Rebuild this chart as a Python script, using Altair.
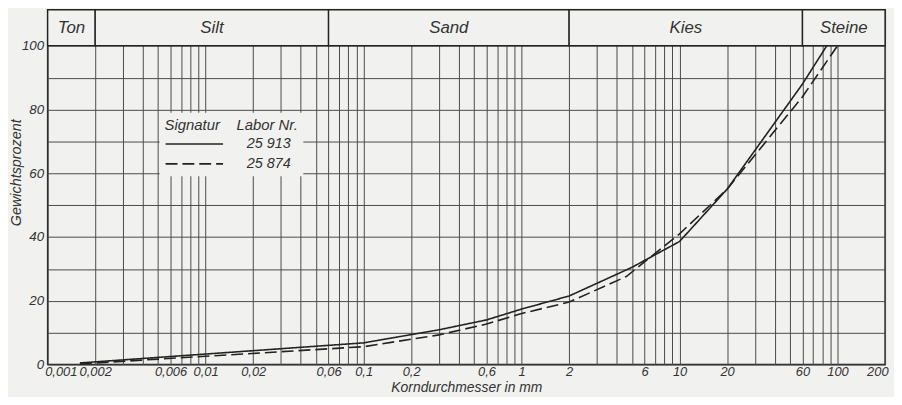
import altair as alt
import pandas as pd

# ---- data ----
series = ["25 913", "25 874"]
solid_d = [0.0016, 0.1, 0.3, 0.6, 1, 2, 5, 10, 20, 60, 85.5]
solid_p = [0.5, 6.8, 10.9, 14.0, 17.4, 21.5, 30.5, 38.6, 55.0, 88.0, 100.0]
dash_d = [0.0016, 0.1, 0.3, 0.6, 1, 2, 4.6, 10, 20, 60, 100]
dash_p = [0.2, 5.6, 9.3, 12.7, 16.0, 19.6, 27.6, 41.0, 55.0, 84.0, 100.0]

zones = ["Ton", "Silt", "Sand", "Kies", "Steine"]
zone_from = [0.001, 0.002, 0.06, 2, 60]
zone_to = [0.002, 0.06, 2, 60, 200]

x_labels = [0.001, 0.002, 0.006, 0.01, 0.02, 0.06, 0.1, 0.2, 0.6, 1, 2, 6, 10, 20, 60, 100, 200]
y_grid = [0, 10, 20, 30, 40, 50, 60, 70, 80, 90, 100]
y_labels = [0, 20, 40, 60, 80, 100]

x_title = "Korndurchmesser in mm"
y_title = "Gewichtsprozent"

# ---- styling constants ----
BG = "#f1f1ef"
INK = "#222222"
TXT = "#333333"
FONT = "Liberation Sans"
HEADER_TOP = 111.3

grid_x = sorted({round(m * 10 ** k, 6) for k in range(-3, 3) for m in range(1, 10) if m * 10 ** k <= 200.0001})

rows = []
for s, ds, ps in [(series[0], solid_d, solid_p), (series[1], dash_d, dash_p)]:
    for i, (d, p) in enumerate(zip(ds, ps)):
        rows.append({"series": s, "d": d, "p": p, "i": i})
curves = pd.DataFrame(rows)

zone_df = pd.DataFrame({"zone": zones, "from": zone_from, "to": zone_to,
                        "lo": [100] * 5, "hi": [HEADER_TOP] * 5})

x_scale = alt.Scale(type="log", domain=[0.001, 200], nice=False)
y_scale = alt.Scale(domain=[0, HEADER_TOP], nice=False, zero=True)

lbl_arr = "[" + ",".join(repr(v) for v in x_labels) + "]"
x_axis = alt.Axis(
    values=grid_x, grid=True, ticks=False, domain=False,
    labelExpr=f"indexof({lbl_arr}, datum.value) >= 0 ? replace(toString(datum.value), '.', ',') : ''",
    labelFlush=True, labelFlushOffset=3, labelPadding=1, labelFontSize=13,
    title=x_title, titleFontSize=14, titlePadding=2,
)
ylbl_arr = "[" + ",".join(repr(v) for v in y_labels) + "]"
y_axis = alt.Axis(
    values=y_grid, grid=True, ticks=False, domain=False,
    labelExpr=f"indexof({ylbl_arr}, datum.value) >= 0 ? datum.value : ''",
    labelPadding=4, labelFontSize=13.5,
    title=y_title, titleFontSize=14.5, titleX=-24, titleY=164,
)

lines = alt.Chart(curves).mark_line(color=INK, strokeWidth=1.6).encode(
    x=alt.X("d:Q", scale=x_scale, axis=x_axis),
    y=alt.Y("p:Q", scale=y_scale, axis=y_axis),
    order="i:Q",
    strokeDash=alt.StrokeDash(
        "series:N",
        scale=alt.Scale(domain=series, range=[[1, 0], [12, 5]]),
        legend=alt.Legend(
            orient="none", legendX=113, legendY=104,
            title="Signatur\u00a0\u00a0\u00a0\u00a0Labor Nr.",
            symbolType="stroke", symbolSize=3364, symbolStrokeWidth=1.6,
            symbolStrokeColor=INK, labelOffset=23, rowPadding=4, clipHeight=15,
            fillColor=BG, padding=5, titlePadding=4,
        ),
    ),
)

header = alt.Chart(zone_df).mark_rect(fill=BG, stroke=INK, strokeWidth=1.4).encode(
    x=alt.X("from:Q", scale=x_scale, axis=x_axis),
    x2="to:Q",
    y=alt.Y("lo:Q", scale=y_scale, axis=y_axis),
    y2="hi:Q",
)

header_text = alt.Chart(zone_df).transform_calculate(
    mid="sqrt(datum.from * datum.to)", ymid="(datum.lo + datum.hi) / 2"
).mark_text(font=FONT, fontStyle="italic", fontSize=17, color=TXT, baseline="middle").encode(
    x=alt.X("mid:Q", scale=x_scale, axis=x_axis),
    y=alt.Y("ymid:Q", scale=y_scale, axis=y_axis),
    text="zone:N",
)

chart = alt.layer(header, header_text, lines).properties(
    width=845, height=358,
    autosize=alt.AutoSizeParams(type="none"),
    padding={"left": 40, "top": 0, "right": 9, "bottom": 31},
    background=BG,
).configure_view(
    stroke=INK, strokeWidth=1.5
).configure_axis(
    gridColor="#4a4a4a", gridWidth=1, gridOpacity=1,
    labelFont=FONT, labelFontStyle="italic", labelColor=TXT,
    titleFont=FONT, titleFontStyle="italic", titleFontWeight="normal", titleColor=TXT,
).configure_legend(
    labelFont=FONT, labelFontStyle="italic", labelFontSize=14.5, labelColor=TXT,
    titleFont=FONT, titleFontStyle="italic", titleFontWeight="normal", titleFontSize=15,
    titleColor=TXT,
)

chart.save("out.html", embed_options={"renderer": "svg", "actions": False})
